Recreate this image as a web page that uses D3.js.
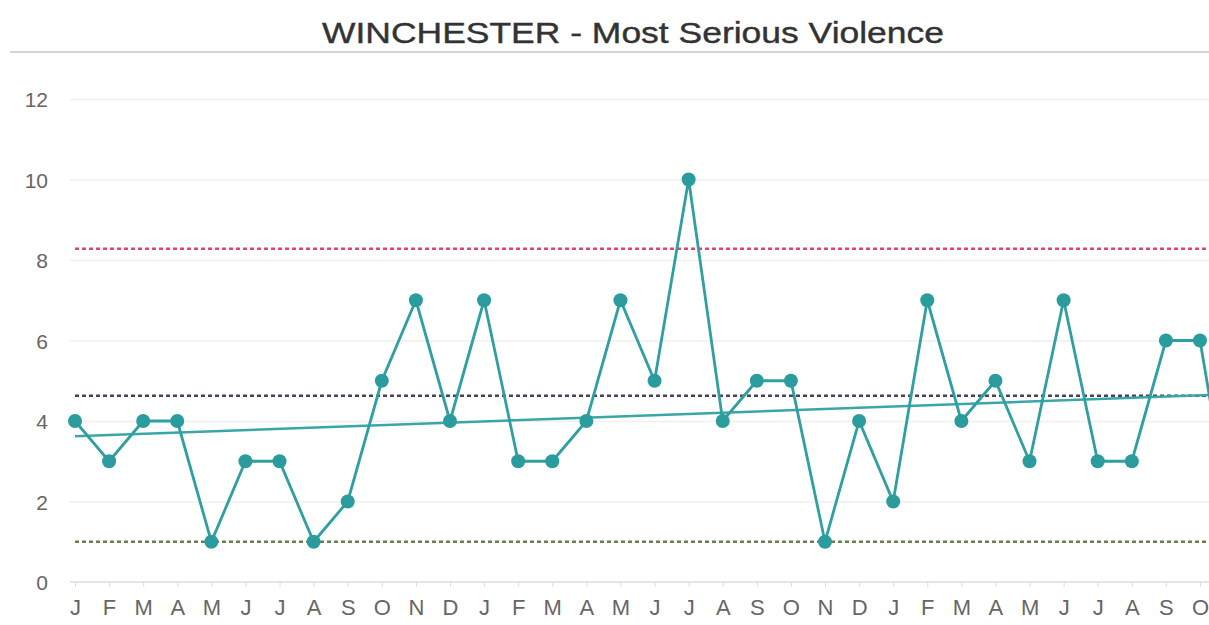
<!DOCTYPE html>
<html>
<head>
<meta charset="utf-8">
<script src="https://cdn.jsdelivr.net/npm/d3@7"></script>
<style>
  body { margin: 0; background: #fff; }
  svg { display: block; font-family: "Liberation Sans", Arial, sans-serif; }
  .grid line { stroke: #efefef; stroke-width: 1.5; }
  .grid .domain { display: none; }
</style>
</head>
<body>
<div id="chart"></div>
<script>
// month initials, two and a bit years (last one runs off the right edge)
const months = ["J","F","M","A","M","J","J","A","S","O","N","D",
                "J","F","M","A","M","J","J","A","S","O","N","D",
                "J","F","M","A","M","J","J","A","S","O","N"];
const counts = [4,3,4,4,1,3,3,1,2,5,7,4,
                7,3,3,4,7,5,10,4,5,5,1,4,
                2,7,4,5,3,7,3,3,6,6,1];
const yTicks = [0,2,4,6,8,10,12];
const upperLimit = 8.28;
const meanLine = 4.63;
const lowerLimit = 1.0;
const trend = [3.62, 4.67]; // value at first and last month

const width = 1209, height = 625;

const svg = d3.select("#chart").append("svg")
  .attr("width", width)
  .attr("height", height);

const x = d3.scaleLinear()
  .domain([0, 33])
  .range([75, 1200]);

const y = d3.scaleLinear()
  .domain([0, 12])
  .range([582, 99]);

// title + rule under it
svg.append("line")
  .attr("x1", 10).attr("x2", width)
  .attr("y1", 52).attr("y2", 52)
  .attr("stroke", "#d4d4d4").attr("stroke-width", 2);

svg.append("text")
  .attr("x", 322).attr("y", 43)
  .attr("font-size", 30)
  .attr("textLength", 622)
  .attr("lengthAdjust", "spacingAndGlyphs")
  .attr("fill", "#333")
  .attr("stroke", "#333")
  .attr("stroke-width", 0.4)
  .text("WINCHESTER - Most Serious Violence");

// horizontal grid
svg.append("g")
  .attr("class", "grid")
  .attr("transform", "translate(70,0)")
  .call(d3.axisRight(y).tickValues(yTicks.slice(1)).tickSize(width - 70).tickFormat(""));

// y labels
svg.append("g")
  .selectAll("text")
  .data(yTicks)
  .enter()
  .append("text")
  .attr("x", 48)
  .attr("y", d => y(d) + 8)
  .attr("text-anchor", "end")
  .attr("font-size", 21)
  .attr("fill", "#666")
  .text(d => d);

// x axis
const xAxis = svg.append("g")
  .attr("transform", "translate(0," + y(0) + ")")
  .call(d3.axisBottom(x)
    .tickValues(d3.range(months.length))
    .tickSize(5)
    .tickPadding(12)
    .tickFormat(i => months[i]));
xAxis.select(".domain").attr("stroke", "#ddd").attr("stroke-width", 1.5).attr("d", "M70,0H" + width);
xAxis.selectAll(".tick line").attr("stroke", "#ddd");
xAxis.selectAll(".tick text")
  .attr("font-size", 22)
  .attr("fill", "#666")
  .attr("font-family", "Liberation Sans, Arial, sans-serif");

// reference lines
const refs = [
  {v: upperLimit, c: "#d9486d"},
  {v: meanLine, c: "#4a3f5c"},
  {v: lowerLimit, c: "#66804f"}
];
svg.append("g")
  .selectAll("line")
  .data(refs)
  .enter()
  .append("line")
  .attr("x1", 75).attr("x2", width)
  .attr("y1", d => y(d.v)).attr("y2", d => y(d.v))
  .attr("stroke", d => d.c)
  .attr("stroke-width", 2.5)
  .attr("stroke-dasharray", "4,3");

// trend line
svg.append("line")
  .attr("x1", x(0)).attr("y1", y(trend[0]))
  .attr("x2", x(months.length - 1)).attr("y2", y(trend[1]))
  .attr("stroke", "#3aa6a6")
  .attr("stroke-width", 2.5);

// series
const line = d3.line()
  .x((d, i) => x(i))
  .y(d => y(d));

svg.append("path")
  .datum(counts)
  .attr("fill", "none")
  .attr("stroke", "#2f9fa1")
  .attr("stroke-width", 2.8)
  .attr("d", line);

svg.append("g")
  .selectAll("circle")
  .data(counts)
  .enter()
  .append("circle")
  .attr("cx", (d, i) => x(i))
  .attr("cy", d => y(d))
  .attr("r", 7)
  .attr("fill", "#2a9c9e");
</script>
</body>
</html>
